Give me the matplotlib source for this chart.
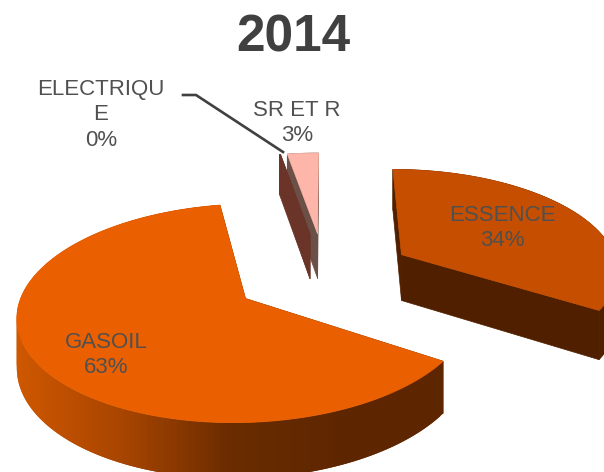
import numpy as np
import matplotlib.pyplot as plt
from matplotlib.colors import LinearSegmentedColormap

plt.rcParams['font.family'] = ['Liberation Sans', 'DejaVu Sans']

# Data
title = '2014'
categories = ['ESSENCE', 'GASOIL', 'ELECTRIQUE', 'SR ET R']
values = [34.1, 63.1, 0.1, 2.7]

# Slice styling
top_colors = ['#C54E00', '#EA6000', '#6A3528', '#FDB6A9']
face_colors = ['#4F1F00', '#5E2600', '#6A3528', '#6B5048']
explode = [0.41, 0.425, 0.42, 0.42]
wall_cmap = LinearSegmentedColormap.from_list('wall', ['#D05800', '#A84500', '#6A2C00', '#5E2600'])

# Fake 3D view, in pixels
cx, cy = 325, 274
rx, ry = 218, 101
persp = 0.13
depth = 47


def project(u, v, z=0):
    p = 1 / (1 + persp * v)
    return cx + rx * u * p, cy - ry * v * p + depth * z * p


def draw_slice(start, end, off, top_color, face_color, gradient=False):
    mid = np.radians((start + end) / 2)
    ou, ov = off * np.sin(mid), off * np.cos(mid)
    th = np.radians(np.linspace(start, end, 160))
    u = ou + np.sin(th)
    v = ov + np.cos(th)

    # outer wall
    if gradient:
        # quads overlap by one step so no seams show
        for i in range(len(th) - 2):
            x0, y0 = project(u[i], v[i])
            x1, y1 = project(u[i + 2], v[i + 2])
            x2, y2 = project(u[i + 2], v[i + 2], 1)
            x3, y3 = project(u[i], v[i], 1)
            c = wall_cmap(np.clip((x0 - 14) / 330, 0, 1))
            ax.fill([x0, x1, x2, x3], [y0, y1, y2, y3], color=c, lw=0)
    else:
        xa, ya = project(u, v)
        xb, yb = project(u, v, 1)
        ax.fill(np.r_[xa, xb[::-1]], np.r_[ya, yb[::-1]], color=face_color, lw=0.5)

    # the two cut faces
    for i in [0, -1]:
        xs = [project(ou, ov)[0], project(u[i], v[i])[0], project(u[i], v[i], 1)[0], project(ou, ov, 1)[0]]
        ys = [project(ou, ov)[1], project(u[i], v[i])[1], project(u[i], v[i], 1)[1], project(ou, ov, 1)[1]]
        ax.fill(xs, ys, color=face_color, lw=0.5)

    # top
    xt, yt = project(np.r_[ou, u], np.r_[ov, v])
    ax.fill(xt, yt, color=top_color, lw=0.5)


fig = plt.figure(figsize=(6.04, 4.72), dpi=100)
ax = fig.add_axes([0, 0, 1, 1])
ax.set_xlim(0, 604)
ax.set_ylim(472, 0)
ax.axis('off')

# angles clockwise from the top
shares = np.array(values) / sum(values) * 360
ends = np.cumsum(shares)
starts = ends - shares

# back slices first
for i in [3, 2, 0, 1]:
    draw_slice(starts[i], ends[i], explode[i], top_colors[i], face_colors[i], gradient=(i == 1))

ax.text(293, 38, title, ha='center', va='center', fontsize=37, fontweight='bold', color='#404040')

txt = '#505050'
ax.text(502, 228, f'{categories[0]}\n{values[0]:.0f}%', ha='center', va='center', fontsize=16, color=txt, linespacing=1.3)
ax.text(106, 355, f'{categories[1]}\n{values[1]:.0f}%', ha='center', va='center', fontsize=16, color=txt, linespacing=1.3)
ax.text(101, 115, f'ELECTRIQU\nE\n{values[2]:.0f}%', ha='center', va='center', fontsize=16, color=txt, linespacing=1.3)
ax.text(297, 123, f'{categories[3]}\n{values[3]:.0f}%', ha='center', va='center', fontsize=16, color=txt, linespacing=1.3)

# leader line
ax.plot([183, 196, 283], [95, 95, 152], color='#404040', lw=1.9)

plt.savefig('out.png', dpi=100)
